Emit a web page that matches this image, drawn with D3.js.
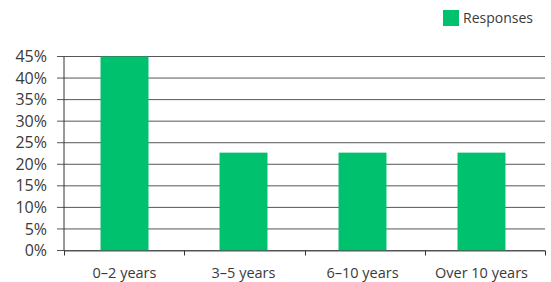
<!DOCTYPE html>
<html>
<head>
<meta charset="utf-8">
<script src="https://cdn.jsdelivr.net/npm/d3@7"></script>
<style>
  body { margin: 0; background: #fff; }
  text { font-family: "Open Sans", sans-serif; fill: #3a3a3a; }
</style>
</head>
<body>
<svg id="chart"></svg>
<script>
// data
var categories = ["0–2 years", "3–5 years", "6–10 years", "Over 10 years"];
var responses = [45, 22.7, 22.7, 22.7];
var yTicks = [0, 5, 10, 15, 20, 25, 30, 35, 40, 45];
var seriesName = "Responses";

const width = 551;
const height = 282;
const margin = {top: 56.5, right: 6, bottom: 31.5, left: 64};
const green = "#00c26e";

const svg = d3.select("#chart")
    .attr("width", width)
    .attr("height", height);

var x = d3.scaleBand()
    .domain(categories)
    .range([margin.left, 542])
    .paddingInner(0.597)
    .paddingOuter(0.307);

var y = d3.scaleLinear()
    .domain([0, 45])
    .range([height - margin.bottom, margin.top]);

// gridlines + left ticks
svg.append("g")
    .selectAll("line")
    .data(yTicks)
    .enter().append("line")
    .attr("x1", margin.left - 7)
    .attr("x2", width - margin.right)
    .attr("y1", d => y(d))
    .attr("y2", d => y(d))
    .style("stroke", "#555")
    .style("stroke-width", 1);

svg.append("g")
    .selectAll("text")
    .data(yTicks)
    .enter().append("text")
    .attr("x", 47)
    .attr("y", d => y(d))
    .attr("dy", "0.35em")
    .attr("text-anchor", "end")
    .style("font-size", "16px")
    .text(d => d + "%");

// bars
svg.append("g")
    .selectAll("rect")
    .data(responses)
    .enter().append("rect")
    .attr("x", (d, i) => x(categories[i]))
    .attr("width", x.bandwidth())
    .attr("y", d => y(d))
    .attr("height", d => y(0) - y(d))
    .attr("fill", green);

// y axis line
svg.append("line")
    .attr("x1", margin.left).attr("x2", margin.left)
    .attr("y1", y(45)).attr("y2", y(0))
    .style("stroke", "#333");

// x axis baseline and category boundary ticks
var bounds = d3.range(categories.length + 1).map(i => margin.left + i * (width - margin.right - margin.left) / categories.length);
svg.append("line")
    .attr("x1", margin.left).attr("x2", width - margin.right)
    .attr("y1", y(0) + 0.5).attr("y2", y(0) + 0.5)
    .style("stroke", "#555");
svg.append("g")
    .selectAll("line")
    .data(bounds)
    .enter().append("line")
    .attr("x1", d => Math.round(d) + 0.5)
    .attr("x2", d => Math.round(d) + 0.5)
    .attr("y1", y(0))
    .attr("y2", y(0) + 5)
    .style("stroke", "#333");

svg.append("g")
    .selectAll("text")
    .data(categories)
    .enter().append("text")
    .attr("x", d => x(d) + x.bandwidth() / 2)
    .attr("y", 278)
    .attr("text-anchor", "middle")
    .style("font-size", "14.5px")
    .text(d => d);

// legend
var legend = svg.append("g").attr("transform", "translate(443,10)");
legend.append("rect")
    .attr("width", 16).attr("height", 16)
    .attr("fill", green);
legend.append("text")
    .attr("x", 20)
    .attr("y", 8)
    .attr("dy", "0.35em")
    .style("font-size", "14px")
    .text(seriesName);
</script>
</body>
</html>
